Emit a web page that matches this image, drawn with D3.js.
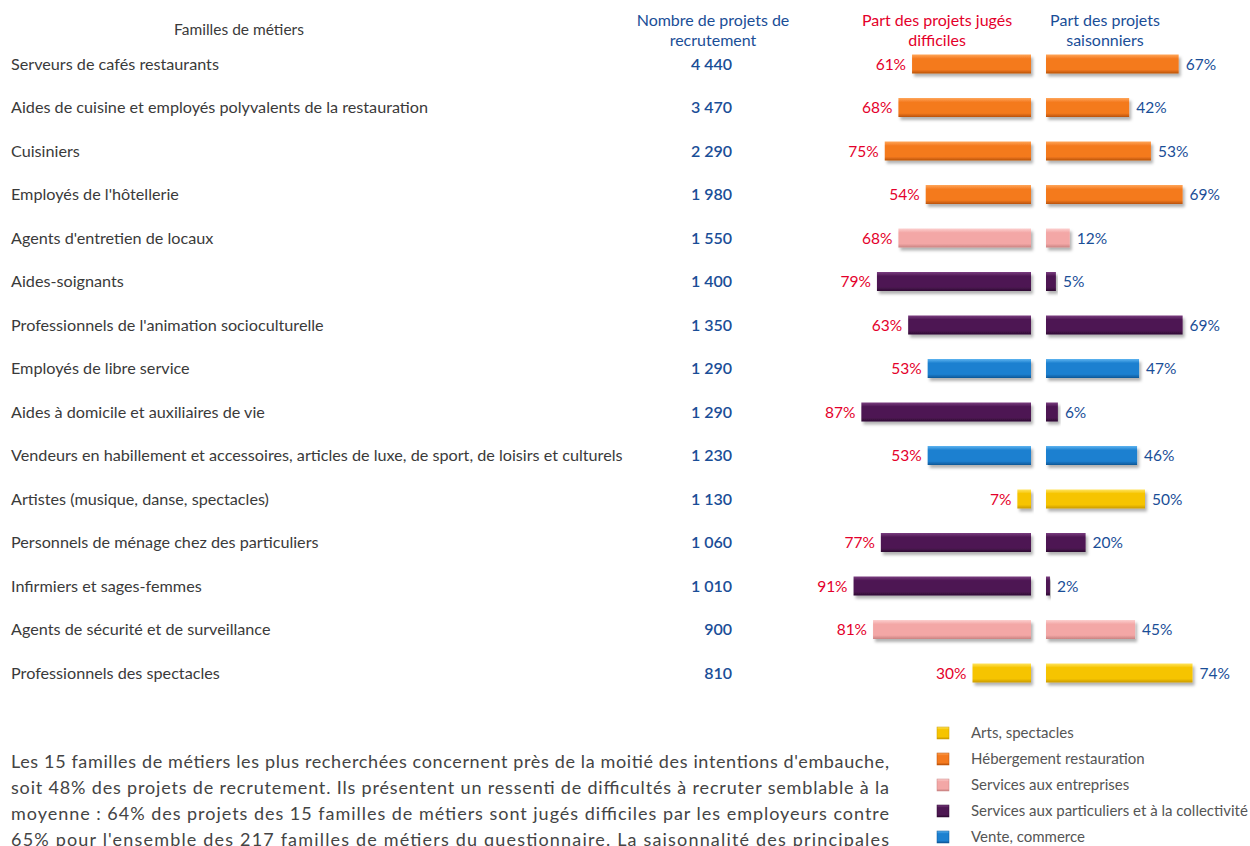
<!DOCTYPE html>
<html>
<head>
<meta charset="utf-8">
<script src="https://cdn.jsdelivr.net/npm/d3@7"></script>
<style>
  body { margin: 0; background: #fff; }
  svg { display: block; }
</style>
</head>
<body>
<svg id="chart"></svg>
<script>
// chart data
const metiers = [
  "Serveurs de cafés restaurants",
  "Aides de cuisine et employés polyvalents de la restauration",
  "Cuisiniers",
  "Employés de l'hôtellerie",
  "Agents d'entretien de locaux",
  "Aides-soignants",
  "Professionnels de l'animation socioculturelle",
  "Employés de libre service",
  "Aides à domicile et auxiliaires de vie",
  "Vendeurs en habillement et accessoires, articles de luxe, de sport, de loisirs et culturels",
  "Artistes (musique, danse, spectacles)",
  "Personnels de ménage chez des particuliers",
  "Infirmiers et sages-femmes",
  "Agents de sécurité et de surveillance",
  "Professionnels des spectacles"
];
const projets = [4440, 3470, 2290, 1980, 1550, 1400, 1350, 1290, 1290, 1230, 1130, 1060, 1010, 900, 810];
const difficiles = [61, 68, 75, 54, 68, 79, 63, 53, 87, 53, 7, 77, 91, 81, 30];
const saisonniers = [67, 42, 53, 69, 12, 5, 69, 47, 6, 46, 50, 20, 2, 45, 74];
const secteurs = ["heb", "heb", "heb", "heb", "ent", "part", "part", "vente", "part", "vente", "arts", "part", "part", "ent", "arts"];

const legendKeys = ["arts", "heb", "ent", "part", "vente"];
const legendLabels = ["Arts, spectacles", "Hébergement restauration", "Services aux entreprises",
  "Services aux particuliers et à la collectivité", "Vente, commerce"];

const paragraphLines = [
  "Les 15 familles de métiers les plus recherchées concernent près de la moitié des intentions d'embauche,",
  "soit 48% des projets de recrutement. Ils présentent un ressenti de difficultés à recruter semblable à la",
  "moyenne : 64% des projets des 15 familles de métiers sont jugés difficiles par les employeurs contre",
  "65% pour l'ensemble des 217 familles de métiers du questionnaire. La saisonnalité des principales"
];

const colors = {
  arts: ["#ffe45c", "#f6c400", "#c99a00"],
  heb: ["#ffa65a", "#f47a1f", "#b9520a"],
  ent: ["#fcd0cf", "#f3a7a6", "#c98382"],
  part: ["#7a3d80", "#4d1752", "#2e0b32"],
  vente: ["#5db4f0", "#1c80d0", "#0f5696"]
};

const width = 1250, height = 846;
const font = "Lato, 'Noto Sans', sans-serif";
const blue = "#1a4e97", red = "#e4002b", grey = "#3a3a3a";

const svg = d3.select("#chart").attr("width", width).attr("height", height);
const defs = svg.append("defs");

// bevel-ish gradients for each sector
Object.keys(colors).forEach(k => {
  const c = colors[k];
  const g = defs.append("linearGradient").attr("id", "grad-" + k)
    .attr("x1", 0).attr("y1", 0).attr("x2", 0).attr("y2", 1);
  g.append("stop").attr("offset", "0%").attr("stop-color", c[0]);
  g.append("stop").attr("offset", "22%").attr("stop-color", c[1]);
  g.append("stop").attr("offset", "80%").attr("stop-color", c[1]);
  g.append("stop").attr("offset", "100%").attr("stop-color", c[2]);
});
const shadow = defs.append("filter").attr("id", "shadow")
  .attr("x", "-10%").attr("y", "-20%").attr("width", "130%").attr("height", "170%");
shadow.append("feDropShadow").attr("dx", 2).attr("dy", 3).attr("stdDeviation", 1.5)
  .attr("flood-color", "#000").attr("flood-opacity", 0.3);

const rows = d3.range(metiers.length);
const yScale = d3.scalePoint().domain(rows).range([64, 673]);
const barH = 19;

const diffAxisX = 1031;
const saisAxisX = 1046;
const diffScale = d3.scaleLinear().domain([0, 100]).range([0, 195]);
const saisScale = d3.scaleLinear().domain([0, 100]).range([0, 198]);

const fmt = d3.formatLocale({ decimal: ",", thousands: "\u202f", grouping: [3], currency: ["", "€"] }).format(",d");

// headers
const headers = [
  { lines: ["Familles de métiers"], x: 239, y: 35, fill: grey, size: 15.5 },
  { lines: ["Nombre de projets de", "recrutement"], x: 713, y: 26, fill: blue, size: 16 },
  { lines: ["Part des projets jugés", "difficiles"], x: 937, y: 26, fill: red, size: 16 },
  { lines: ["Part des projets", "saisonniers"], x: 1105, y: 26, fill: blue, size: 16 }
];
headers.forEach(h => {
  const t = svg.append("text")
    .attr("x", h.x).attr("y", h.y)
    .attr("text-anchor", "middle")
    .style("font-family", font).style("font-size", h.size + "px")
    .style("fill", h.fill);
  h.lines.forEach((l, i) => {
    t.append("tspan").attr("x", h.x).attr("dy", i === 0 ? 0 : 20).text(l);
  });
});

const row = svg.append("g").selectAll("g").data(rows).join("g")
  .attr("transform", d => `translate(0,${yScale(d)})`);

row.append("text")
  .attr("x", 11).attr("y", 5.5)
  .style("font-family", font).style("font-size", "16.2px").style("fill", grey)
  .text(d => metiers[d]);

row.append("text")
  .attr("x", 732).attr("y", 5.5)
  .attr("text-anchor", "end")
  .style("font-family", font).style("font-size", "16px").style("font-weight", "600")
  .style("fill", blue)
  .text(d => fmt(projets[d]));

// difficult bars (grow leftwards)
row.append("rect")
  .attr("x", d => diffAxisX - diffScale(difficiles[d]))
  .attr("y", -barH / 2)
  .attr("width", d => diffScale(difficiles[d]))
  .attr("height", barH)
  .attr("fill", d => `url(#grad-${secteurs[d]})`)
  .attr("filter", "url(#shadow)");

row.append("text")
  .attr("x", d => diffAxisX - diffScale(difficiles[d]) - 6).attr("y", 5.5)
  .attr("text-anchor", "end")
  .style("font-family", font).style("font-size", "15.5px").style("fill", red)
  .text(d => difficiles[d] + "%");

// seasonal bars
row.append("rect")
  .attr("x", saisAxisX)
  .attr("y", -barH / 2)
  .attr("width", d => saisScale(saisonniers[d]))
  .attr("height", barH)
  .attr("fill", d => `url(#grad-${secteurs[d]})`)
  .attr("filter", "url(#shadow)");

row.append("text")
  .attr("x", d => saisAxisX + saisScale(saisonniers[d]) + 7).attr("y", 5.5)
  .style("font-family", font).style("font-size", "15.5px").style("fill", blue)
  .text(d => saisonniers[d] + "%");

// legend
const legend = svg.append("g").selectAll("g").data(legendKeys).join("g")
  .attr("transform", (d, i) => `translate(937,${733 + i * 26})`);
legend.append("rect")
  .attr("x", 0).attr("y", -6).attr("width", 12).attr("height", 12)
  .attr("fill", d => `url(#grad-${d})`)
  .attr("stroke", d => colors[d][2]).attr("stroke-width", 0.5);
legend.append("text")
  .attr("x", 34).attr("y", 5)
  .style("font-family", font).style("font-size", "15px").style("fill", "#555")
  .text((d, i) => legendLabels[i]);

// paragraph below the chart, justified
svg.append("g").selectAll("text").data(paragraphLines).join("text")
  .attr("x", 11).attr("y", (d, i) => 768 + i * 26)
  .attr("textLength", 878).attr("lengthAdjust", "spacing")
  .style("font-family", font).style("font-size", "18px").style("fill", "#444")
  .text(d => d);
</script>
</body>
</html>
